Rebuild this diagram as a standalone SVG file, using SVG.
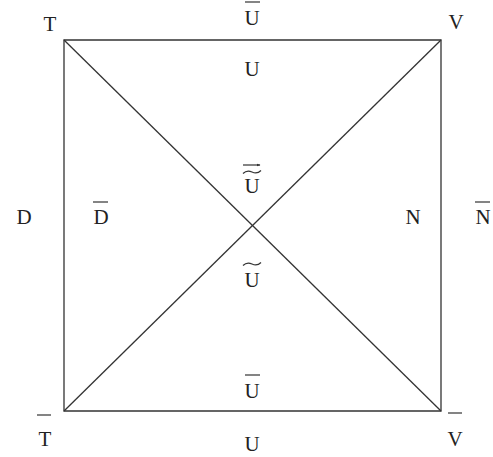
<svg xmlns="http://www.w3.org/2000/svg" width="493" height="457" viewBox="0 0 493 457">
<style>
text{font-family:"Liberation Serif","Times New Roman",serif;font-size:21px;fill:#222;text-anchor:middle}
.e{stroke:#333;stroke-width:1.3;fill:none}
.b{stroke:#333;stroke-width:1.2;fill:none}
</style>
<defs>
<marker id="ah" markerWidth="4" markerHeight="4" refX="3" refY="2" orient="auto" markerUnits="userSpaceOnUse">
<path d="M0,0.7 L3.5,2 L0,3.3 Z" fill="#333"/>
</marker>
</defs>
<rect width="493" height="457" fill="#fff"/>
<g id="connectors">
<path class="e" d="M64,40 H441 V411 H64 Z"/>
<line class="e" x1="64" y1="40" x2="441" y2="411"/>
<line class="e" x1="441" y1="40" x2="64" y2="411"/>
</g>
<g id="T"><text x="50" y="31">T</text></g>
<g id="V"><text x="456" y="29">V</text></g>
<g id="Tbar"><line class="b" x1="37" y1="415" x2="51" y2="415"/><text x="45" y="446">T</text></g>
<g id="Vbar"><line class="b" x1="448" y1="413" x2="462" y2="413"/><text x="455" y="446">V</text></g>
<g id="Ubar-top"><line class="b" x1="245" y1="2" x2="260" y2="2"/><text x="252" y="25">U</text></g>
<g id="U-top"><text x="252" y="76">U</text></g>
<g id="D"><text x="24" y="224">D</text></g>
<g id="Dbar"><line class="b" x1="93" y1="202" x2="108" y2="202"/><text x="101" y="224">D</text></g>
<g id="N"><text x="413" y="224">N</text></g>
<g id="Nbar"><line class="b" x1="475" y1="202" x2="490" y2="202"/><text x="483" y="224">N</text></g>
<g id="Utilde-arrow"><line class="b" x1="243" y1="165" x2="260" y2="165" marker-end="url(#ah)"/><path class="b" d="M243,173.5 C246,170.5 249,170.5 252,172 C255,173.5 258,173.5 261,170.5"/><text x="252" y="193">U</text></g>
<g id="Utilde"><path class="b" d="M243,265.5 C246,262.5 249,262.5 252,264 C255,265.5 258,265.5 261,262.5"/><text x="252" y="287">U</text></g>
<g id="Ubar-bottom"><line class="b" x1="245" y1="375" x2="260" y2="375"/><text x="252" y="398">U</text></g>
<g id="U-bottom"><text x="252" y="451">U</text></g>
</svg>
